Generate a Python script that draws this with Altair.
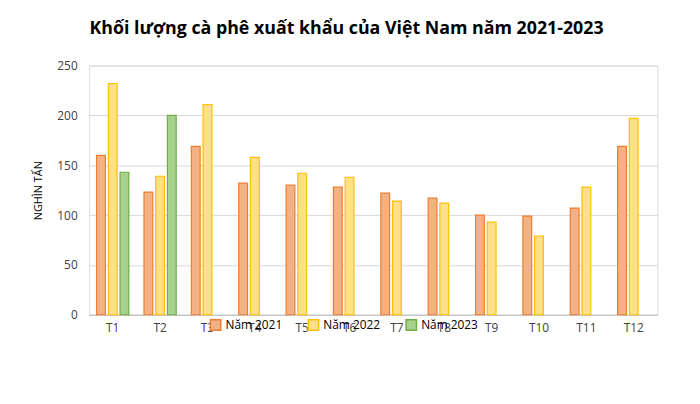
import altair as alt
import pandas as pd

months = ["T1","T2","T3","T4","T5","T6","T7","T8","T9","T10","T11","T12"]
y2021 = [160,123,169,132,130,128,122,117,100,99,107,169]
y2022 = [232,139,211,158,142,138,114,112,93,79,128,197]
y2023 = [143,200]
series = ["Năm 2021","Năm 2022","Năm 2023"]

rows = []
for m, v in zip(months, y2021): rows.append({"m": m, "s": series[0], "v": v})
for m, v in zip(months, y2022): rows.append({"m": m, "s": series[1], "v": v})
for m, v in zip(months, y2023): rows.append({"m": m, "s": series[2], "v": v})
df = pd.DataFrame(rows)

fills = ["#F4B183", "#FFE08A", "#A9D18E"]
strokes = ["#ED7D31", "#FFC000", "#70AD47"]

chart = alt.Chart(df).mark_bar(strokeWidth=1.2).encode(
    x=alt.X("m:N", sort=months, title=None,
            scale=alt.Scale(paddingInner=0.32, paddingOuter=0.16),
            axis=alt.Axis(labelAngle=0, labelFontSize=12, labelColor="#404040",
                          domainColor="#BFBFBF", ticks=False, labelPadding=8)),
    xOffset=alt.XOffset("s:N", sort=series, scale=alt.Scale(paddingInner=0.25)),
    y=alt.Y("v:Q", title="NGHÌN TẤN", scale=alt.Scale(domain=[0, 250]),
            axis=alt.Axis(values=[0,50,100,150,200,250], labelFontSize=12,
                          labelColor="#404040", domain=False, ticks=False,
                          gridColor="#D9D9D9", titleFontSize=11,
                          titleFontWeight="normal", titleColor="#000000",
                          labelPadding=12, titlePadding=14)),
    fill=alt.Fill("s:N", sort=series, scale=alt.Scale(domain=series, range=fills),
                  legend=alt.Legend(orient="none", legendX=122, legendY=52 + 252 - 48,
                                    direction="horizontal", title=None, labelFontSize=12,
                                    symbolType="square", symbolSize=110, columnPadding=22)),
    stroke=alt.Stroke("s:N", sort=series, scale=alt.Scale(domain=series, range=strokes),
                      legend=None),
).properties(
    width=575, height=252,
    autosize=alt.AutoSizeParams(type="none"),
    padding={"left": 82, "right": 35, "top": 56, "bottom": 88},
    title=alt.TitleParams("Khối lượng cà phê xuất khẩu của Việt Nam năm 2021-2023",
                          fontSize=18, fontWeight="bold", color="#000000", offset=22,
                          dx=-27),
).configure_view(stroke=None).configure(font="Open Sans", background="white")

chart.save("out.html", embed_options={"renderer": "svg", "actions": False})
